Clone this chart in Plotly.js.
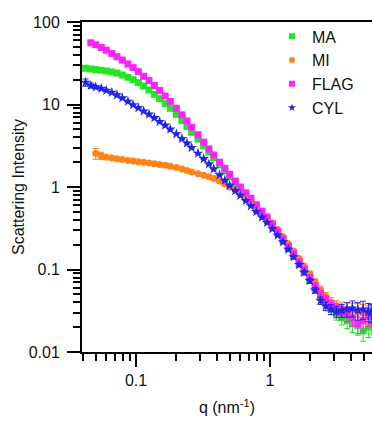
<!DOCTYPE html>
<html>
<head>
<meta charset="utf-8">
<script src="https://cdn.plot.ly/plotly-3.0.1.min.js"></script>
<style>
html,body{margin:0;padding:0;background:#fff;}
#chart{width:372px;height:429px;}
</style>
</head>
<body>
<div id="chart"></div>
<script>
// scattering vector q (nm^-1)
const q = [0.042,0.046,0.050,0.055,0.060,0.066,0.072,0.079,0.087,0.095,
  0.104,0.114,0.125,0.137,0.150,0.165,0.18,0.20,0.22,0.24,
  0.26,0.29,0.32,0.35,0.38,0.42,0.46,0.50,0.55,0.60,
  0.66,0.72,0.79,0.87,0.95,1.04,1.14,1.25,1.37,1.50,
  1.65,1.80,1.98,2.17,2.38,2.61,2.86,3.13,3.43,3.76,
  4.12,4.52,4.95,5.42,5.70];

const seriesNames = ['MA','MI','FLAG','CYL'];

const MA = [27.5,27,26.5,26,25.5,24.8,24,22.8,21.4,20,
  18.4,16.7,15.0,13.3,11.8,10.3,9.0,7.6,6.4,5.4,
  4.6,3.8,3.15,2.65,2.25,1.86,1.56,1.33,1.1,0.94,
  0.8,0.69,0.58,0.49,0.41,0.34,0.28,0.225,0.18,0.145,
  0.116,0.093,0.074,0.059,0.047,0.039,0.033,0.029,0.026,0.024,
  0.022,0.021,0.018,0.020,0.022];

const MI = [null,null,2.55,2.4,2.3,2.25,2.2,2.15,2.1,2.07,
  2.03,2.0,1.96,1.92,1.88,1.83,1.78,1.72,1.65,1.58,
  1.52,1.45,1.39,1.33,1.27,1.18,1.09,1.0,0.92,0.84,
  0.77,0.67,0.58,0.50,0.43,0.365,0.305,0.25,0.205,0.168,
  0.136,0.11,0.089,0.071,0.057,0.047,0.040,0.036,0.034,0.033,
  0.032,0.031,0.030,0.029,0.030];

const FLAG = [null,56,53,49,45.5,41.5,38,34.5,31,28,
  25,22,19.5,17,14.8,12.7,10.9,9.0,7.5,6.3,
  5.3,4.3,3.5,2.9,2.45,2.0,1.68,1.42,1.18,1.0,
  0.85,0.73,0.61,0.51,0.43,0.355,0.29,0.235,0.19,0.155,
  0.124,0.10,0.080,0.064,0.051,0.043,0.037,0.033,0.030,0.029,
  0.026,0.022,0.024,0.027,0.028];

const CYL = [18.5,17,16.3,15.6,14.8,14,13.0,12.0,10.9,9.9,
  9.1,8.3,7.6,6.9,6.2,5.6,5.0,4.4,3.85,3.4,
  3.0,2.55,2.2,1.9,1.65,1.4,1.2,1.04,0.9,0.79,
  0.68,0.59,0.5,0.43,0.37,0.31,0.26,0.215,0.175,0.142,
  0.114,0.092,0.073,0.056,0.042,0.036,0.033,0.031,0.032,0.033,
  0.034,0.032,0.033,0.031,0.030];

// relative uncertainties
const relErr = [0.02,0.02,0.02,0.02,0.02,0.02,0.02,0.02,0.02,0.02,
  0.02,0.02,0.02,0.02,0.02,0.02,0.02,0.02,0.02,0.02,
  0.02,0.02,0.02,0.02,0.02,0.02,0.02,0.02,0.02,0.02,
  0.02,0.02,0.02,0.02,0.03,0.03,0.03,0.03,0.04,0.05,
  0.05,0.06,0.07,0.08,0.10,0.12,0.14,0.16,0.18,0.20,
  0.22,0.24,0.25,0.25,0.25];
const relErrStartMA = [0.04,0.03];
const relErrStartMI = [null,null,0.15,0.10,0.06,0.04];
const relErrStartFLAG = [null,0.05,0.03];
const relErrStartCYL = [0.10,0.07,0.04];

const colors = ['#22e622','#ff8418','#ff22ff','#2222e8'];
const symbols = ['square','circle','square','star'];
const sizes = [7, 7, 7, 8];
const values = [MA, MI, FLAG, CYL];
const starts = [relErrStartMA, relErrStartMI, relErrStartFLAG, relErrStartCYL];

const traces = values.map((v, k) => {
  const err = v.map((y, i) => {
    if (y === null) return null;
    const r = (starts[k][i] != null) ? starts[k][i] : relErr[i];
    return y * r;
  });
  return {
    type: 'scatter',
    mode: 'markers',
    name: seriesNames[k],
    showlegend: false,
    x: q,
    y: v,
    marker: {symbol: symbols[k], size: sizes[k], color: colors[k], line: {width: 0}},
    error_y: {type: 'data', array: err, visible: true, color: colors[k], thickness: 1, width: 3}
  };
});

// legend entries with small symbols as in the reference
const legendTraces = seriesNames.map((n, k) => ({
  type: 'scatter', mode: 'markers', name: n,
  x: [null], y: [null], showlegend: true,
  marker: {symbol: symbols[k], size: 6, color: colors[k], line: {width: 0}}
}));

const font = {family: 'Arial, "Liberation Sans", sans-serif', color: '#111'};

const layout = {
  width: 372, height: 429,
  margin: {l: 82, r: 0, t: 22, b: 77},
  paper_bgcolor: '#fff', plot_bgcolor: '#fff',
  font: Object.assign({size: 16}, font),
  showlegend: true,
  legend: {x: 0.655, y: 1.008, xanchor: 'left', yanchor: 'top',
    bgcolor: 'rgba(0,0,0,0)', font: Object.assign({size: 16}, font),
    itemsizing: 'trace', tracegroupgap: 0},
  xaxis: {
    type: 'log',
    range: [Math.log10(0.0395), Math.log10(5.77)],
    showline: true, linecolor: '#000', linewidth: 2, mirror: true,
    showgrid: false, zeroline: false,
    ticks: 'outside', ticklen: 13, tickwidth: 2, tickcolor: '#000',
    dtick: 1,
    tickfont: Object.assign({size: 16}, font),
    minor: {ticks: 'outside', ticklen: 7, tickwidth: 2, tickcolor: '#000', dtick: 'D1', showgrid: false},
    title: {text: 'q (nm<sup>-1</sup>)', font: Object.assign({size: 16}, font), standoff: 14}
  },
  yaxis: {
    type: 'log',
    range: [-2, 2],
    showline: true, linecolor: '#000', linewidth: 2, mirror: false,
    showgrid: false, zeroline: false,
    ticks: 'outside', ticklen: 13, tickwidth: 2, tickcolor: '#000',
    dtick: 1,
    ticklabelstandoff: 4,
    tickfont: Object.assign({size: 16}, font),
    minor: {ticks: 'outside', ticklen: 7, tickwidth: 2, tickcolor: '#000', dtick: 'D1', showgrid: false},
    title: {text: 'Scattering Intensity', font: Object.assign({size: 16}, font), standoff: 0}
  }
};

Plotly.newPlot('chart', traces.concat(legendTraces), layout, {displayModeBar: false, staticPlot: true});
</script>
</body>
</html>
